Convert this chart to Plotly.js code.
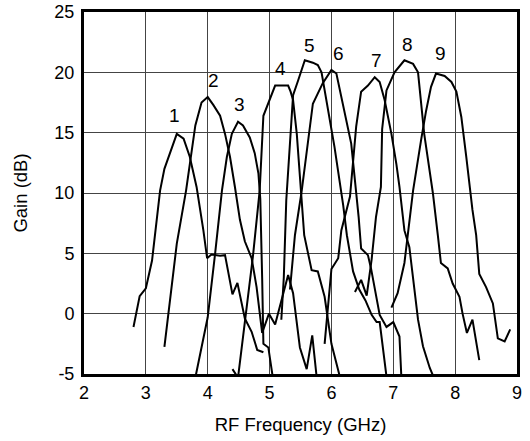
<!DOCTYPE html>
<html>
<head>
<meta charset="utf-8">
<script src="https://cdn.plot.ly/plotly-3.0.1.min.js"></script>
<style>html,body{margin:0;padding:0;background:#fff;}#chart{width:530px;height:441px;}</style>
</head>
<body>
<div id="chart"></div>
<script>
// Gain curves (RF frequency in GHz, gain in dB)
const c1x = [2.80, 2.90, 3.00, 3.10, 3.23, 3.30, 3.50, 3.61, 3.71, 3.82, 3.93, 3.99, 4.06, 4.20, 4.28, 4.40, 4.48, 4.60, 4.71, 4.80, 4.90];
const c1y = [-1.1, 1.45, 2.1, 4.4, 10.2, 12.0, 14.9, 14.5, 13.0, 10.5, 6.9, 4.6, 4.9, 4.8, 4.85, 1.6, 2.55, -0.4, -1.5, -3.0, -3.2];

const c2x = [3.30, 3.50, 3.65, 3.80, 3.90, 4.00, 4.09, 4.20, 4.28, 4.36, 4.44, 4.52, 4.60, 4.71, 4.79, 4.88, 4.99, 5.09, 5.30, 5.38, 5.49, 5.60, 5.69, 5.76];
const c2y = [-2.75, 5.8, 10.2, 15.6, 17.5, 17.95, 17.3, 16.4, 14.9, 13.0, 10.5, 7.8, 6.0, 4.6, 2.2, -1.6, 0.0, -0.9, 3.2, 1.7, -2.8, -4.6, -1.8, -5.2];

const c3x = [3.80, 4.00, 4.12, 4.23, 4.31, 4.39, 4.49, 4.57, 4.68, 4.76, 4.82, 4.85, 4.88, 4.90, 4.98, 5.05];
const c3y = [-5.3, -0.3, 5.0, 10.2, 13.0, 14.9, 15.9, 15.6, 14.6, 13.3, 11.6, 9.5, 3.0, -2.5, -2.8, -5.2];

const c4x = [4.40, 4.49, 4.73, 4.84, 4.90, 5.00, 5.09, 5.30, 5.34, 5.38, 5.44, 5.56, 5.68, 5.78, 5.89, 6.00, 6.13];
const c4y = [-4.6, -5.3, 4.7, 10.2, 16.4, 17.8, 18.9, 18.9, 18.4, 17.7, 14.9, 6.5, 3.6, 3.5, 1.4, -2.5, -5.1];

const c5x = [5.19, 5.23, 5.27, 5.38, 5.46, 5.57, 5.70, 5.78, 5.84, 6.05, 6.19, 6.25, 6.35, 6.45, 6.55, 6.65, 6.73, 6.78, 6.89];
const c5y = [-0.5, 3.0, 9.4, 18.1, 19.3, 21.0, 20.8, 20.6, 20.0, 13.8, 9.0, 6.5, 3.5, 2.0, 1.1, -0.1, -0.7, -0.7, -5.2];

const c6x = [5.33, 5.41, 5.52, 5.70, 5.86, 6.00, 6.08, 6.16, 6.32, 6.44, 6.48, 6.59, 6.64, 6.78, 6.89, 7.00, 7.10, 7.13];
const c6y = [2.0, 6.5, 10.2, 17.4, 19.1, 20.2, 19.9, 18.0, 14.1, 8.0, 5.4, 4.85, 3.75, -0.1, -1.1, -0.7, -1.9, -5.2];

const c7x = [5.89, 6.00, 6.11, 6.16, 6.30, 6.40, 6.48, 6.59, 6.70, 6.78, 6.86, 6.97, 7.05, 7.10, 7.18, 7.26, 7.40, 7.48, 7.59, 7.64];
const c7y = [-2.5, 3.7, 4.6, 6.9, 9.7, 15.5, 18.4, 18.9, 19.6, 19.2, 17.7, 14.9, 12.4, 10.5, 6.9, 5.5, -0.5, -2.7, -4.5, -5.1];

const c8x = [6.38, 6.48, 6.57, 6.65, 6.72, 6.80, 6.82, 6.89, 7.02, 7.18, 7.32, 7.40, 7.50, 7.64, 7.72, 7.77, 7.88, 7.96, 8.07, 8.12, 8.19, 8.28, 8.39];
const c8y = [1.8, 2.8, 1.5, 4.5, 8.0, 10.5, 15.3, 18.5, 20.0, 21.0, 20.7, 20.0, 14.9, 10.0, 6.5, 4.2, 3.75, 2.5, 1.4, 0.0, -1.6, -0.5, -3.85];

const c9x = [6.97, 7.07, 7.18, 7.24, 7.32, 7.45, 7.53, 7.61, 7.69, 7.83, 7.94, 8.02, 8.10, 8.18, 8.28, 8.34, 8.39, 8.50, 8.61, 8.69, 8.80, 8.89];
const c9y = [0.5, 1.7, 4.2, 6.9, 10.2, 14.4, 16.8, 18.8, 19.9, 19.7, 19.2, 18.4, 16.3, 13.0, 8.6, 6.5, 3.3, 2.2, 0.85, -2.05, -2.3, -1.3];

// Curve labels
const labelText = ["1", "2", "3", "4", "5", "6", "7", "8", "9"];
const labelX = [3.47, 4.09, 4.52, 5.17, 5.65, 6.12, 6.73, 7.23, 7.76];
const labelY = [16.4, 19.3, 17.3, 20.3, 22.2, 21.6, 21.0, 22.3, 21.6];

const xTicks = [2, 3, 4, 5, 6, 7, 8, 9];
const yTicks = [-5, 0, 5, 10, 15, 20, 25];

const curves = [[c1x,c1y],[c2x,c2y],[c3x,c3y],[c4x,c4y],[c5x,c5y],[c6x,c6y],[c7x,c7y],[c8x,c8y],[c9x,c9y]];
const traces = curves.map((c, i) => ({
  x: c[0], y: c[1], type: 'scatter', mode: 'lines', name: labelText[i],
  line: {color: '#000', width: 2}, hoverinfo: 'skip'
}));

const font = {family: 'Liberation Sans, Arial, sans-serif', color: '#000'};
const annotations = labelText.map((t, i) => ({
  x: labelX[i], y: labelY[i], xref: 'x', yref: 'y', text: t, showarrow: false,
  font: Object.assign({size: 19}, font)
}));

const layout = {
  width: 530, height: 441,
  margin: {l: 84, r: 13, t: 12, b: 67},
  paper_bgcolor: '#fff', plot_bgcolor: '#fff',
  showlegend: false,
  font: Object.assign({size: 18}, font),
  xaxis: {
    range: [2, 9], tickvals: xTicks, ticktext: xTicks.map(String),
    showgrid: true, gridcolor: '#444', gridwidth: 1,
    showline: true, mirror: true, linecolor: '#000', linewidth: 3,
    ticks: '', zeroline: false,
    tickfont: Object.assign({size: 18}, font),
    title: {text: 'RF Frequency (GHz)', font: Object.assign({size: 18.5}, font), standoff: 17}
  },
  yaxis: {
    range: [-5, 25], tickvals: yTicks, ticktext: yTicks.map(String),
    showgrid: true, gridcolor: '#444', gridwidth: 1,
    showline: true, mirror: true, linecolor: '#000', linewidth: 3,
    ticks: '', zeroline: false, ticklabelstandoff: 3,
    tickfont: Object.assign({size: 18}, font),
    title: {text: 'Gain (dB)', font: Object.assign({size: 18.5}, font), standoff: 22}
  },
  annotations: annotations
};

Plotly.newPlot('chart', traces, layout, {staticPlot: true, displayModeBar: false});
</script>
</body>
</html>
